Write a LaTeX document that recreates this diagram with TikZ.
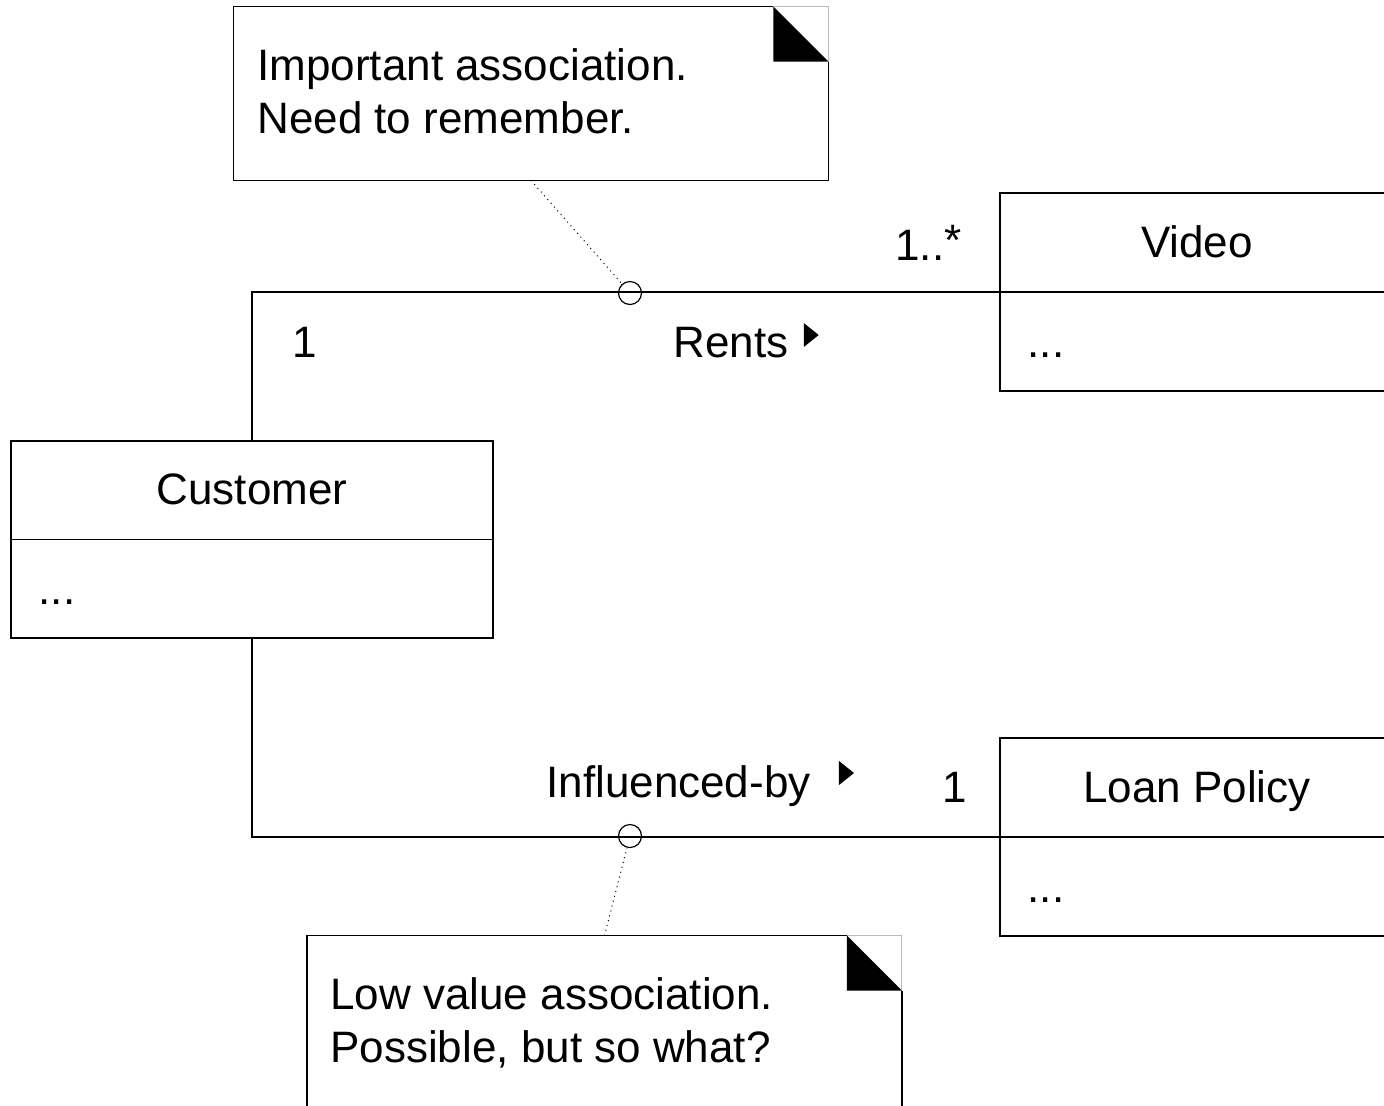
\documentclass[tikz,border=0pt]{standalone}
\usepackage{fontspec}
\setmainfont{Liberation Sans}
\usetikzlibrary{positioning}
\definecolor{ink}{HTML}{000000}
\definecolor{foldgray}{HTML}{BDBDBD}

\begin{document}
\begin{tikzpicture}[x=.5pt,y=-.5pt,
    txt/.style={font=\fontsize{22}{26.5}\selectfont,inner sep=0pt},
    classbox/.style={draw=ink,line width=.75pt,minimum width=#1,minimum height=99pt,inner sep=0pt},
    notebox/.style={minimum width=297pt,minimum height=86.5pt,inner sep=0pt},
    assoc/.style={draw=ink,line width=.75pt},
    pin/.style={circle,draw=ink,line width=.6pt,minimum size=11.5pt,inner sep=0pt}]
    \useasboundingbox (0,0) rectangle (1384,1105);
    % classes
    \node[classbox=241pt,minimum height=98.5pt] (customer) at (252,539.5) {};
    \node[classbox=197pt] (video) at (1197,292) {};
    \node[classbox=197pt] (loan) at (1197,837) {};
    \foreach \c/\title in {customer/Customer,video/Video,loan/Loan Policy}{
      \draw[assoc] (\c.west) -- (\c.east);
      \node[txt,anchor=base] (\c-title) at ([yshift=17.5pt]\c.center) {\title};
      \node[txt,anchor=base west] (\c-attr) at ([xshift=14pt,yshift=-32.5pt]\c.west) {...};
    }
    % associations
    \draw[assoc] (customer.north) |- (video.west);
    \draw[assoc] (customer.south) |- (loan.west);
    \node[pin] (rentspin) at (630,293) {};
    \node[pin] (influencepin) at (630,836) {};
    \node[txt,anchor=base west] (custmult) at (292,357) {1};
    \node[txt,anchor=base west] (rentslbl) at (673,357) {Rents};
    \node[txt,anchor=base west] (videomult) at (895,260) {1..\raisebox{2.5pt}{*}};
    \node[txt,anchor=base west] (influencelbl) at (546,797) {Influenced-by};
    \node[txt,anchor=base west] (loanmult) at (942,802) {1};
    \foreach \l/\gap/\lift in {rentslbl/7.5pt/5pt,influencelbl/14pt/6pt}
      \fill[ink] ([xshift=\gap,yshift=\lift]\l.base east) -- ++(0pt,12pt) -- ++(7.5pt,-6pt) -- cycle;
    % notes
    \node[notebox] (rentsnote) at (531,93.5) {};
    \node[notebox] (influencenote) at (604.5,1022.5) {};
    \foreach \n in {rentsnote,influencenote}{
      \draw[ink,line width=.75pt] ([xshift=-27.5pt]\n.north east) -- (\n.north west) -- (\n.south west) -- (\n.south east) -- ([yshift=-27.5pt]\n.north east);
      \draw[foldgray,line width=.5pt] ([xshift=-27.5pt]\n.north east) -- (\n.north east) -- ([yshift=-27.5pt]\n.north east);
      \fill[ink] ([xshift=-27.5pt]\n.north east) -- ([xshift=-27.5pt,yshift=-27.5pt]\n.north east) -- ([yshift=-27.5pt]\n.north east) -- cycle;
    }
    \node[txt,anchor=north west,align=left] (rentsnotetext) at (257,48) {Important association.\\Need to remember.};
    \node[txt,anchor=north west,align=left] (influencenotetext) at (330,977) {Low value association.\\Possible, but so what?};
    \draw[ink,line width=.5pt,dotted] (rentsnote.south) -- (rentspin);
    \draw[ink,line width=.5pt,dotted] (influencenote.north) -- (influencepin);
\end{tikzpicture}
\end{document}
